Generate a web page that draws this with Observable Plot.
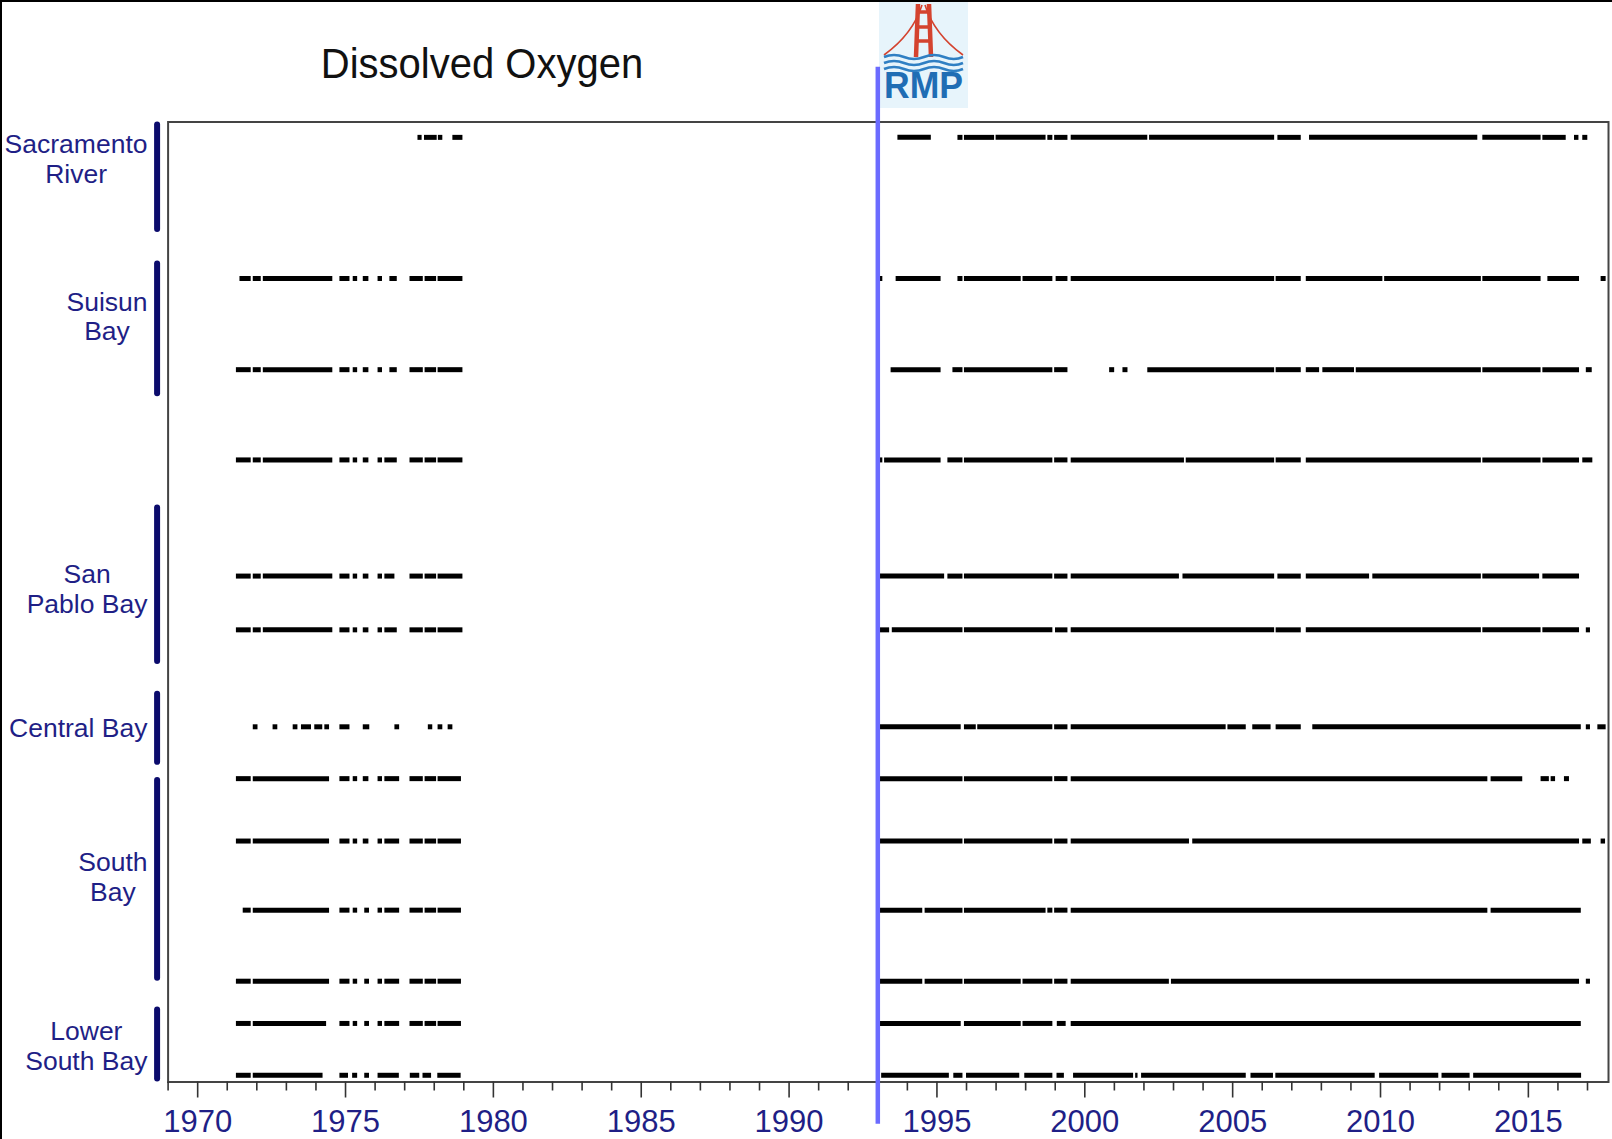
<!DOCTYPE html>
<html>
<head>
<meta charset="utf-8">
<script src="https://cdn.jsdelivr.net/npm/d3@7"></script>
<script src="https://cdn.jsdelivr.net/npm/@observablehq/plot@0.6"></script>
<style>
  html, body { margin: 0; padding: 0; background: #fff; }
  #page { position: relative; width: 1612px; height: 1139px; overflow: hidden; background: #fff; }
  #page > * { position: absolute; }
  .edge { background: #000; }
  #title { left: 0; top: 42px; width: 964px; text-align: center; font-family: 'Liberation Sans', Arial, sans-serif;
           font-size: 43px; line-height: 43px; color: #111; transform: scaleX(0.93); transform-origin: 482px 0; white-space: nowrap; }
  #chart { left: 0; top: 0; }
</style>
</head>
<body>
<div id="page">
  <svg id="logo" width="89" height="108" viewBox="0 0 89 108" style="left:879px;top:0">
    <rect width="89" height="108" fill="#e7f4fb"/>
    <path d="M43 5 Q34 34 5 55" stroke="#d4432f" fill="none" stroke-width="1.6"/>
    <path d="M46 5 Q55 34 84 55" stroke="#d4432f" fill="none" stroke-width="1.6"/>
    <path d="M39 4 L37 57 M50 4 L52 57" stroke="#d4432f" stroke-width="4.5" fill="none"/>
    <path d="M38 12 H51 M37.5 27 H51.5 M37 41 H52" stroke="#d4432f" stroke-width="3.5" fill="none"/>
    <path d="M5 57 q10 -4 20 0 t20 0 t20 0 t19 0" stroke="#2f7fc3" stroke-width="2.6" fill="none"/>
    <path d="M5 63 q10 -4 20 0 t20 0 t20 0 t19 0" stroke="#2f7fc3" stroke-width="2.6" fill="none"/>
    <path d="M5 69 q10 -4 20 0 t20 0 t20 0 t19 0" stroke="#2f7fc3" stroke-width="2.6" fill="none"/>
    <text x="5" y="98" font-family="'Liberation Sans Narrow','Liberation Sans',Arial,sans-serif" font-weight="bold"
          font-size="37" fill="#1f6db4" textLength="79" lengthAdjust="spacingAndGlyphs">RMP</text>
  </svg>
  <div id="title">Dissolved Oxygen</div>
  <div id="chart"></div>
  <div class="edge" style="left:0;top:0;width:1612px;height:2px"></div>
  <div class="edge" style="left:0;top:0;width:2px;height:1139px"></div>
</div>
<script>
// ---------------- data ----------------
const xDomain = [1969, 2017.71];
const rmpStartYear = 1993;
const majorTicks = [1970, 1975, 1980, 1985, 1990, 1995, 2000, 2005, 2010, 2015];
const minorTicks = d3.range(1969, 2018).filter(y => y % 5 !== 0);

// station rows: vertical position (0 = top of frame, 100 = bottom)
const stationIds = ["SR1", "SU1", "SU2", "SU3", "SP1", "SP2", "CB1", "CB2", "SB1", "SB2", "SB3", "LSB1", "LSB2"];
const stationPos = [1.6, 16.3, 25.8, 35.2, 47.3, 52.9, 63.0, 68.4, 74.9, 82.1, 89.5, 93.9, 99.3];

// sampling periods [start, end] in decimal years, per station
const segSR1 = [[1977.45,1977.59],[1977.67,1978.10],[1978.14,1978.29],[1978.63,1978.97],
  [1993.68,1994.81],[1995.71,1995.88],[1995.93,1996.95],[1997.00,1998.69],[1998.75,1998.92],[1998.98,1999.43],
  [1999.54,2002.13],[2002.19,2006.42],[2006.53,2007.32],[2007.60,2013.29],[2013.46,2015.43],[2015.49,2016.28],
  [2016.56,2016.71],[2016.84,2017.01]];
const segSU1 = [[1971.43,1971.81],[1971.88,1972.15],[1972.22,1974.57],[1974.81,1975.15],[1975.26,1975.41],
  [1975.60,1975.79],[1976.10,1976.25],[1976.50,1976.75],[1977.18,1977.63],[1977.69,1978.08],[1978.13,1978.97],
  [1993.04,1993.17],[1993.62,1995.14],[1995.71,1995.88],[1995.93,1997.85],[1997.91,1998.92],[1999.03,1999.43],
  [1999.54,2006.42],[2006.47,2007.32],[2007.49,2010.08],[2010.14,2013.41],[2013.46,2015.43],[2015.66,2016.73],
  [2017.46,2017.63]];
const segSU2 = [[1971.31,1971.81],[1971.88,1972.15],[1972.22,1974.57],[1974.81,1975.15],[1975.26,1975.41],
  [1975.60,1975.79],[1976.10,1976.25],[1976.50,1976.75],[1977.18,1977.63],[1977.69,1978.08],[1978.13,1978.97],
  [1993.45,1995.14],[1995.54,1995.88],[1995.93,1998.92],[1998.98,1999.43],[2000.84,2001.01],[2001.29,2001.46],
  [2002.13,2006.42],[2006.47,2007.32],[2007.49,2007.94],[2008.05,2009.12],[2009.18,2013.41],[2013.46,2015.43],
  [2015.49,2016.73],[2016.96,2017.16]];
const segSU3 = [[1971.31,1971.81],[1971.88,1972.15],[1972.22,1974.57],[1974.81,1975.15],[1975.26,1975.41],
  [1975.60,1975.79],[1976.10,1976.25],[1976.33,1976.75],[1977.18,1977.63],[1977.69,1978.08],[1978.13,1978.97],
  [1993.06,1993.17],[1993.23,1995.14],[1995.37,1995.88],[1995.93,1998.92],[1998.98,1999.43],[1999.54,2003.37],
  [2003.43,2006.42],[2006.47,2007.32],[2007.49,2013.41],[2013.46,2015.43],[2015.49,2016.73],[2016.84,2017.18]];
const segSP1 = [[1971.31,1971.81],[1971.88,1972.15],[1972.22,1974.57],[1974.81,1975.15],[1975.26,1975.41],
  [1975.60,1975.79],[1976.10,1976.25],[1976.33,1976.67],[1977.18,1977.63],[1977.69,1978.08],[1978.13,1978.97],
  [1993.07,1995.26],[1995.37,1995.88],[1995.93,1998.92],[1998.98,1999.43],[1999.54,2003.20],[2003.32,2006.42],
  [2006.53,2007.32],[2007.49,2009.63],[2009.74,2013.41],[2013.46,2015.38],[2015.49,2016.73]];
const segSP2 = [[1971.31,1971.81],[1971.88,1972.15],[1972.22,1974.57],[1974.81,1975.15],[1975.26,1975.41],
  [1975.60,1975.79],[1976.10,1976.25],[1976.33,1976.75],[1977.18,1977.63],[1977.69,1978.08],[1978.13,1978.97],
  [1993.07,1993.40],[1993.49,1995.88],[1995.93,1998.92],[1999.01,1999.43],[1999.54,2006.42],[2006.47,2007.32],
  [2007.49,2013.41],[2013.46,2015.43],[2015.49,2016.73],[2016.96,2017.10]];
const segCB1 = [[1971.88,1972.04],[1972.55,1972.71],[1973.23,1973.39],[1973.51,1973.85],[1973.96,1974.23],
  [1974.30,1974.46],[1974.81,1975.15],[1975.60,1975.82],[1976.67,1976.83],[1977.80,1977.95],[1978.13,1978.29],
  [1978.47,1978.63],
  [1993.07,1995.82],[1995.93,1996.33],[1996.38,1998.92],[1998.98,1999.43],[1999.54,2004.78],[2004.84,2005.46],
  [2005.68,2006.30],[2006.47,2007.32],[2007.71,2016.79],[2016.96,2017.10],[2017.35,2017.63]];
const segCB2 = [[1971.31,1971.81],[1971.88,1974.46],[1974.81,1975.15],[1975.26,1975.41],[1975.60,1975.79],
  [1976.10,1976.25],[1976.33,1976.83],[1977.18,1977.63],[1977.69,1978.08],[1978.13,1978.92],
  [1993.07,1995.88],[1995.93,1998.92],[1998.98,1999.43],[1999.54,2013.63],[2013.74,2014.81],[2015.43,2015.71],
  [2015.77,2015.92],[2016.22,2016.39]];
const segSB1 = [[1971.31,1971.81],[1971.88,1974.46],[1974.81,1975.15],[1975.26,1975.41],[1975.60,1975.79],
  [1976.10,1976.25],[1976.33,1976.83],[1977.18,1977.63],[1977.69,1978.08],[1978.13,1978.92],
  [1993.07,1995.88],[1995.93,1998.92],[1998.98,1999.43],[1999.54,2003.54],[2003.65,2016.73],[2016.84,2017.13],
  [2017.46,2017.61]];
const segSB2 = [[1971.54,1971.81],[1971.88,1974.46],[1974.81,1975.15],[1975.26,1975.41],[1975.65,1975.81],
  [1976.10,1976.25],[1976.33,1976.83],[1977.18,1977.63],[1977.69,1978.08],[1978.13,1978.92],
  [1993.07,1994.52],[1994.60,1995.88],[1995.93,1998.69],[1998.75,1998.92],[1998.98,1999.43],[1999.54,2013.63],
  [2013.74,2016.79]];
const segSB3 = [[1971.31,1971.81],[1971.88,1974.46],[1974.81,1975.15],[1975.26,1975.41],[1975.65,1975.81],
  [1976.10,1976.25],[1976.33,1976.83],[1977.18,1977.63],[1977.69,1978.08],[1978.13,1978.92],
  [1993.07,1994.52],[1994.60,1995.88],[1995.93,1997.85],[1997.91,1998.92],[1998.98,1999.43],[1999.54,2002.86],
  [2002.93,2016.73],[2016.96,2017.10]];
const segLSB1 = [[1971.31,1971.81],[1971.88,1974.36],[1974.81,1975.15],[1975.26,1975.41],[1975.65,1975.81],
  [1976.10,1976.25],[1976.33,1976.83],[1977.18,1977.63],[1977.69,1978.08],[1978.13,1978.92],
  [1993.07,1995.82],[1995.93,1997.85],[1997.91,1998.92],[1999.07,1999.37],[1999.54,2016.79]];
const segLSB2 = [[1971.31,1971.81],[1971.88,1974.24],[1974.81,1975.10],[1975.24,1975.41],[1975.65,1975.81],
  [1976.10,1976.82],[1977.19,1977.51],[1977.62,1977.91],[1978.12,1978.91],
  [1993.13,1995.42],[1995.57,1995.88],[1996.00,1997.80],[1997.97,1998.92],[1999.06,1999.31],[1999.62,2001.65],
  [2001.72,2001.80],[2001.92,2005.46],[2005.62,2006.38],[2006.46,2009.82],[2009.97,2011.97],[2012.08,2013.03],
  [2013.15,2016.80]];
const stationSegments = [segSR1, segSU1, segSU2, segSU3, segSP1, segSP2, segCB1, segCB2, segSB1, segSB2, segSB3, segLSB1, segLSB2];

// region groups (bracket extents and label positions, same vertical units)
const groupNames = ["Sacramento\nRiver", "Suisun\nBay", "San\nPablo Bay", "Central Bay", "South\nBay", "Lower\nSouth Bay"];
const groupTop = [0.3, 14.8, 40.2, 59.6, 68.6, 92.5];
const groupBottom = [11.2, 28.3, 56.2, 66.7, 89.2, 99.7];
const groupLabelPos = [3.8, 20.2, 48.6, 63.1, 78.6, 96.2];

// ---------------- build ----------------
const segments = stationSegments.flatMap((segs, i) =>
  segs.map(([start, end]) => ({station: stationIds[i], pos: stationPos[i], start, end})));
const groups = groupNames.map((name, i) => ({name, top: groupTop[i], bottom: groupBottom[i], label: groupLabelPos[i]}));

function fontAvailable(name) {
  const ctx = document.createElement("canvas").getContext("2d");
  const s = "1970 2015 abcdefghijklmnopqrstuvwxyz";
  ctx.font = "40px monospace"; const a = ctx.measureText(s).width;
  ctx.font = `40px '${name}', monospace`; const b = ctx.measureText(s).width;
  return a !== b;
}
const narrow = fontAvailable("Liberation Sans Narrow");
const tickFont = narrow ? "'Liberation Sans Narrow', 'Liberation Sans', Arial, sans-serif" : "'Liberation Sans', Arial, sans-serif";
const tickFontSize = narrow ? 37 : 31;

const labelFont = "'Liberation Sans', Arial, sans-serif";
const labelSize = 26.5;
const measureCtx = document.createElement("canvas").getContext("2d");
measureCtx.font = `${labelSize}px ${labelFont}`;
const textWidth = s => d3.max(s.split("\n"), l => measureCtx.measureText(l).width);

const navyText = "#1f1f86";
const navyBar = "#0b0b6c";

const W = 1612, H = 1139;
const chart = Plot.plot({
  width: W, height: H,
  marginLeft: 167.6, marginRight: 4, marginTop: 121.5, marginBottom: 57.5,
  style: {background: "transparent", fontFamily: labelFont, overflow: "visible"},
  x: {domain: xDomain, label: null},
  y: {domain: [0, 100], reverse: true, axis: null, label: null},
  marks: [
    Plot.frame({stroke: "#444", strokeWidth: 2}),
    Plot.axisX({ticks: minorTicks, tickSize: 9, tickFormat: () => "", stroke: "#333", strokeWidth: 1.6, label: null}),
    Plot.axisX({ticks: majorTicks, tickSize: 16, tickPadding: 12, tickFormat: d => String(d), stroke: "#333",
      strokeWidth: 1.6, fill: navyText, fontSize: tickFontSize, fontFamily: tickFont, label: null}),
    Plot.ruleY(segments, {x1: "start", x2: "end", y: "pos", stroke: "#000", strokeWidth: 5}),
    Plot.ruleX(groups, {x: () => xDomain[0], y1: "top", y2: "bottom", dx: -11, stroke: navyBar, strokeWidth: 6, strokeLinecap: "round"}),
    ...groups.map(g => Plot.text([g], {
      x: () => xDomain[0], y: "label", text: "name", textAnchor: "middle", lineAnchor: "middle",
      lineHeight: 1.13, fontSize: labelSize, fill: navyText, dx: -20.6 - textWidth(g.name) / 2
    })),
    Plot.ruleX([rmpStartYear], {y1: () => -5.7, y2: () => 104.4, stroke: "#6b6bff", strokeWidth: 4.5})
  ]
});
document.getElementById("chart").appendChild(chart);
</script>
</body>
</html>
